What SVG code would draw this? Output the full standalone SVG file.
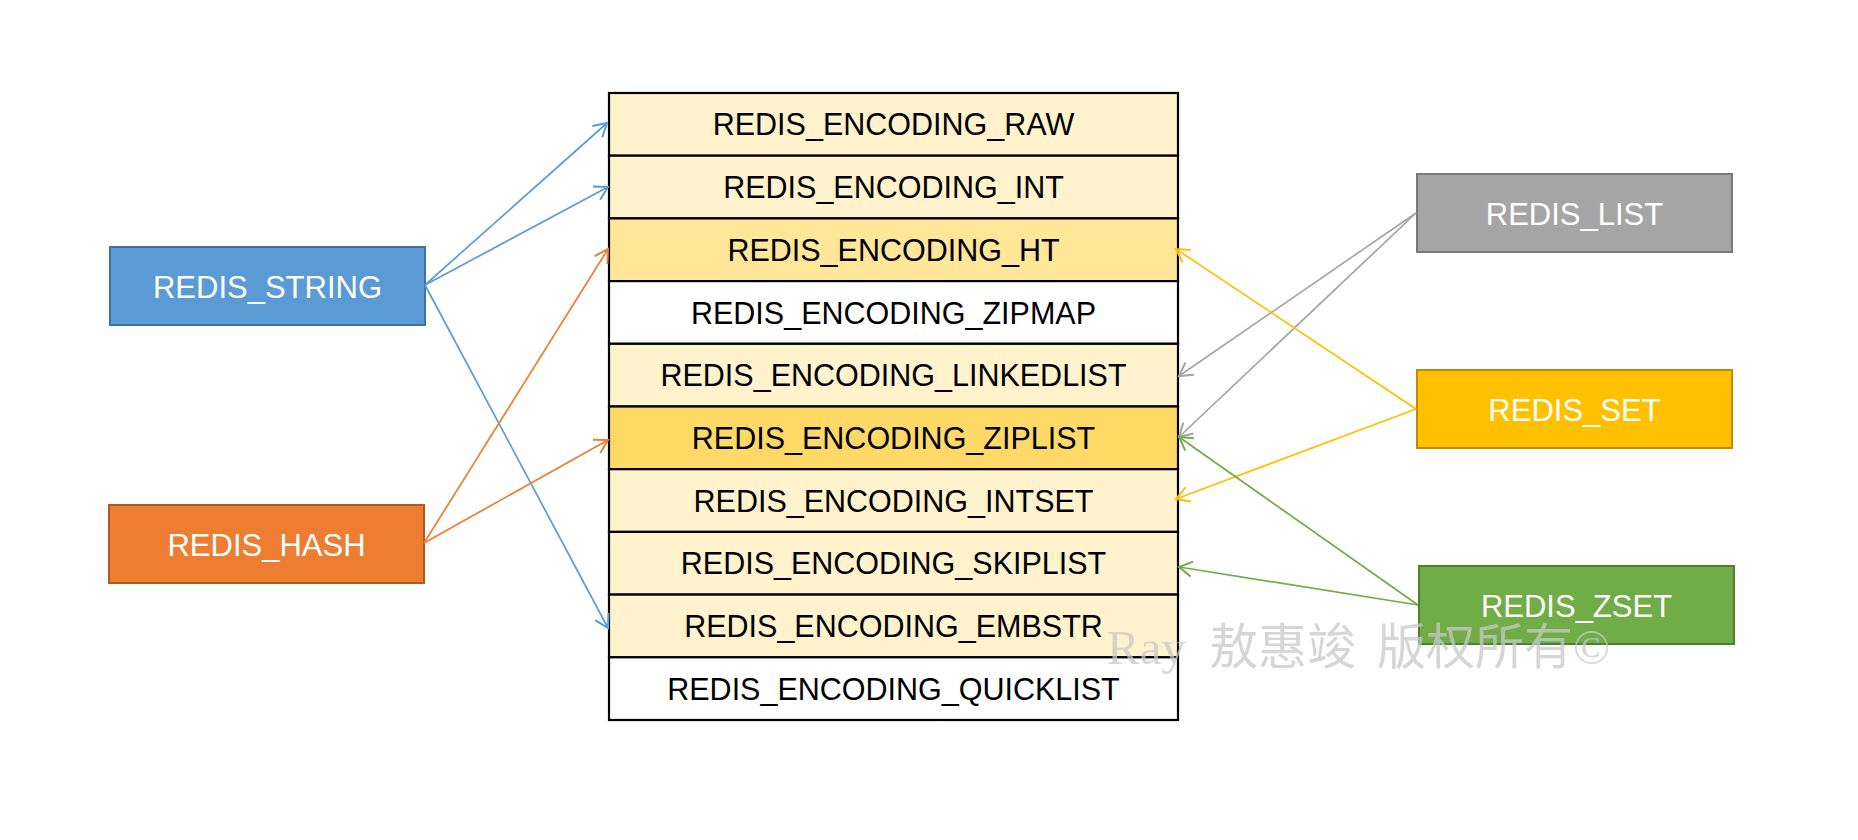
<svg xmlns="http://www.w3.org/2000/svg" width="1858" height="840" viewBox="0 0 1858 840">
<style>
.row{stroke:#000;stroke-width:2.2}
.lt{fill:#FFF2CC}.md{fill:#FFE699}.dk{fill:#FFD966}.wh{fill:#FFFFFF}
.t{font-family:"Liberation Sans",Arial,sans-serif;font-size:30.5px;text-anchor:middle;fill:#000}
.nt{font-family:"Liberation Sans",Arial,sans-serif;font-size:31px;text-anchor:middle;fill:#FFFFFF}
.c{fill:none;stroke-width:1.7}
.wm{font-family:"Liberation Serif","Noto Sans CJK SC",serif;font-size:49px;fill:#C8C8C8;fill-opacity:0.75}
</style>
<defs>
<marker id="mb" markerUnits="userSpaceOnUse" markerWidth="20" markerHeight="20" viewBox="-15 -10 20 20" refX="0" refY="0" orient="auto"><path d="M-13,-7.5 L0,0 L-13,7.5" fill="none" stroke="#5B9BD5" stroke-width="2"/></marker>
<marker id="mo" markerUnits="userSpaceOnUse" markerWidth="20" markerHeight="20" viewBox="-15 -10 20 20" refX="0" refY="0" orient="auto"><path d="M-13,-7.5 L0,0 L-13,7.5" fill="none" stroke="#ED7D31" stroke-width="2"/></marker>
<marker id="mg" markerUnits="userSpaceOnUse" markerWidth="20" markerHeight="20" viewBox="-15 -10 20 20" refX="0" refY="0" orient="auto"><path d="M-13,-7.5 L0,0 L-13,7.5" fill="none" stroke="#A5A5A5" stroke-width="2"/></marker>
<marker id="my" markerUnits="userSpaceOnUse" markerWidth="20" markerHeight="20" viewBox="-15 -10 20 20" refX="0" refY="0" orient="auto"><path d="M-13,-7.5 L0,0 L-13,7.5" fill="none" stroke="#FFC000" stroke-width="2"/></marker>
<marker id="mz" markerUnits="userSpaceOnUse" markerWidth="20" markerHeight="20" viewBox="-15 -10 20 20" refX="0" refY="0" orient="auto"><path d="M-13,-7.5 L0,0 L-13,7.5" fill="none" stroke="#70AD47" stroke-width="2"/></marker>
</defs>
<rect width="1858" height="840" fill="#FFFFFF"/>

<g id="encodings">
<g id="enc-raw"><rect class="row lt" x="609" y="93" width="569" height="62.7"/><text class="t" x="893.5" y="135.4">REDIS_ENCODING_RAW</text></g>
<g id="enc-int"><rect class="row lt" x="609" y="155.7" width="569" height="62.7"/><text class="t" x="893.5" y="198.1">REDIS_ENCODING_INT</text></g>
<g id="enc-ht"><rect class="row md" x="609" y="218.4" width="569" height="62.7"/><text class="t" x="893.5" y="260.8">REDIS_ENCODING_HT</text></g>
<g id="enc-zipmap"><rect class="row wh" x="609" y="281.1" width="569" height="62.7"/><text class="t" x="893.5" y="323.5">REDIS_ENCODING_ZIPMAP</text></g>
<g id="enc-linkedlist"><rect class="row lt" x="609" y="343.8" width="569" height="62.7"/><text class="t" x="893.5" y="386.2">REDIS_ENCODING_LINKEDLIST</text></g>
<g id="enc-ziplist"><rect class="row dk" x="609" y="406.5" width="569" height="62.7"/><text class="t" x="893.5" y="448.9">REDIS_ENCODING_ZIPLIST</text></g>
<g id="enc-intset"><rect class="row lt" x="609" y="469.2" width="569" height="62.7"/><text class="t" x="893.5" y="511.6">REDIS_ENCODING_INTSET</text></g>
<g id="enc-skiplist"><rect class="row lt" x="609" y="531.9" width="569" height="62.7"/><text class="t" x="893.5" y="574.3">REDIS_ENCODING_SKIPLIST</text></g>
<g id="enc-embstr"><rect class="row lt" x="609" y="594.6" width="569" height="62.7"/><text class="t" x="893.5" y="637">REDIS_ENCODING_EMBSTR</text></g>
<g id="enc-quicklist"><rect class="row wh" x="609" y="657.3" width="569" height="62.7"/><text class="t" x="893.5" y="699.7">REDIS_ENCODING_QUICKLIST</text></g>
</g>

<g id="redis-string"><rect x="110" y="247" width="315" height="78" fill="#5B9BD5" stroke="#41719C" stroke-width="2"/><text class="nt" x="267.5" y="297.5">REDIS_STRING</text></g>
<g id="redis-hash"><rect x="109" y="505" width="315" height="78" fill="#ED7D31" stroke="#AE5A21" stroke-width="2"/><text class="nt" x="266.5" y="555.5">REDIS_HASH</text></g>
<g id="redis-list"><rect x="1417" y="174" width="315" height="78" fill="#A5A5A5" stroke="#787878" stroke-width="2"/><text class="nt" x="1574.5" y="224.5">REDIS_LIST</text></g>
<g id="redis-set"><rect x="1417" y="370" width="315" height="78" fill="#FFC000" stroke="#BC8C00" stroke-width="2"/><text class="nt" x="1574.5" y="420.5">REDIS_SET</text></g>
<g id="redis-zset"><rect x="1419" y="566" width="315" height="78" fill="#70AD47" stroke="#507E32" stroke-width="2"/><text class="nt" x="1576.5" y="616.5">REDIS_ZSET</text></g>

<g id="connectors">
<line class="c" stroke="#5B9BD5" x1="425" y1="285" x2="607" y2="123" marker-end="url(#mb)"/>
<line class="c" stroke="#5B9BD5" x1="425" y1="285" x2="608" y2="187" marker-end="url(#mb)"/>
<line class="c" stroke="#5B9BD5" x1="425" y1="285" x2="608" y2="628" marker-end="url(#mb)"/>
<line class="c" stroke="#ED7D31" x1="424" y1="543" x2="608" y2="249" marker-end="url(#mo)"/>
<line class="c" stroke="#ED7D31" x1="424" y1="543" x2="608" y2="440" marker-end="url(#mo)"/>
<line class="c" stroke="#A5A5A5" x1="1416" y1="213" x2="1179" y2="376" marker-end="url(#mg)"/>
<line class="c" stroke="#A5A5A5" x1="1416" y1="213" x2="1179" y2="437" marker-end="url(#mg)"/>
<line class="c" stroke="#FFC000" x1="1416" y1="409" x2="1176" y2="249" marker-end="url(#my)"/>
<line class="c" stroke="#FFC000" x1="1416" y1="409" x2="1176" y2="499" marker-end="url(#my)"/>
<line class="c" stroke="#70AD47" x1="1418" y1="605" x2="1179" y2="437" marker-end="url(#mz)"/>
<line class="c" stroke="#70AD47" x1="1418" y1="605" x2="1179" y2="567" marker-end="url(#mz)"/>
</g>

<text class="wm" y="664"><tspan x="1107">Ray</tspan><tspan x="1209">敖惠竣</tspan><tspan x="1377">版权所有©</tspan></text>
</svg>
